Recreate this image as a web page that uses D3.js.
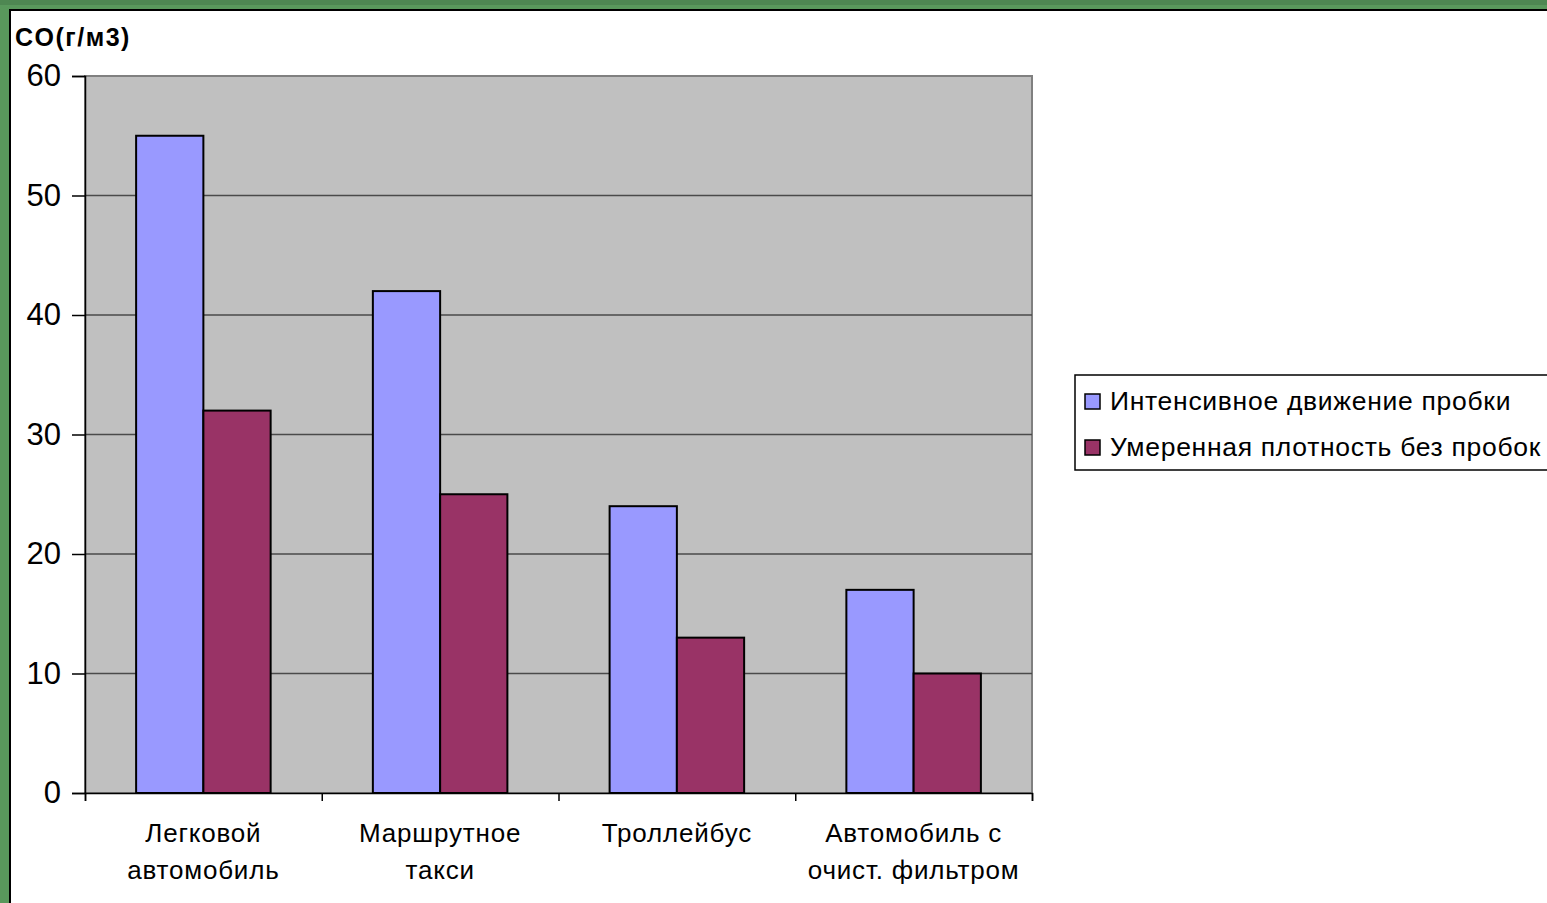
<!DOCTYPE html>
<html>
<head>
<meta charset="utf-8">
<script src="https://cdn.jsdelivr.net/npm/d3@7"></script>
<style>
  body { margin: 0; background: #59985c; }
  svg { display: block; }
</style>
</head>
<body>
<svg id="chart"></svg>
<script>
// data
var categories = [["Легковой", "автомобиль"], ["Маршрутное", "такси"], ["Троллейбус"], ["Автомобиль с", "очист. фильтром"]];
var seriesNames = ["Интенсивное движение пробки", "Умеренная плотность без пробок"];
var heavyTraffic = [55, 42, 24, 17];
var moderateTraffic = [32, 25, 13, 10];
var yTicks = [0, 10, 20, 30, 40, 50, 60];
var colors = ["#9999ff", "#993366"];

var width = 1547, height = 903;
var font = "Liberation Sans, Arial, sans-serif";
var svg = d3.select("#chart").attr("width", width).attr("height", height);

// green frame + white panel
svg.append("rect").attr("width", width).attr("height", height).attr("fill", "#59985c");
svg.append("rect").attr("x", 0).attr("y", 0).attr("width", width).attr("height", 5).attr("fill", "#4e8752");
svg.append("rect").attr("x", 10).attr("y", 10).attr("width", width).attr("height", height)
    .attr("fill", "#fff").attr("stroke", "#000").attr("stroke-width", 2);

var pLeft = 85, pRight = 1032, pTop = 76, pBottom = 793;

var x0 = d3.scaleBand().domain(d3.range(categories.length)).range([pLeft, pRight]).paddingInner(0).paddingOuter(0);
var x1 = d3.scaleBand().domain([0, 1]).range([0, x0.bandwidth()]).paddingOuter(0.76).paddingInner(0);
var y = d3.scaleLinear().domain([0, 60]).range([pBottom, pTop]);

// plot background
svg.append("rect").attr("x", pLeft).attr("y", pTop).attr("width", pRight - pLeft).attr("height", pBottom - pTop)
    .attr("fill", "#c0c0c0").attr("stroke", "#808080").attr("stroke-width", 2);

// gridlines
svg.append("g").selectAll("line").data(yTicks.filter(function(d){ return d > 0 && d < 60; }))
  .enter().append("line")
    .attr("x1", pLeft).attr("x2", pRight)
    .attr("y1", function(d){ return y(d); }).attr("y2", function(d){ return y(d); })
    .attr("stroke", "#4a4a4a").attr("stroke-width", 1.5);

// bars
var groups = svg.append("g").selectAll("g").data(categories).enter().append("g")
    .attr("transform", function(d, i){ return "translate(" + x0(i) + ",0)"; });
groups.selectAll("rect").data(function(d, i){ return [heavyTraffic[i], moderateTraffic[i]]; })
  .enter().append("rect")
    .attr("x", function(d, j){ return x1(j); })
    .attr("y", function(d){ return y(d); })
    .attr("width", x1.bandwidth())
    .attr("height", function(d){ return pBottom - y(d); })
    .attr("fill", function(d, j){ return colors[j]; })
    .attr("stroke", "#000").attr("stroke-width", 2);

// y axis
var yAxis = d3.axisLeft(y).tickValues(yTicks).tickSize(13).tickPadding(11);
var gy = svg.append("g").attr("transform", "translate(" + pLeft + ",0)").call(yAxis);
gy.select(".domain").attr("stroke", "#000").attr("stroke-width", 1.5);
gy.selectAll(".tick line").attr("stroke", "#000").attr("stroke-width", 1.5);
gy.selectAll("text").attr("font-family", font).attr("font-size", 31).attr("fill", "#000");

// x axis
var xLin = d3.scaleLinear().domain([0, categories.length]).range([pLeft, pRight]);
var xAxis = d3.axisBottom(xLin).tickValues(d3.range(categories.length + 1)).tickSize(8).tickFormat("");
var gx = svg.append("g").attr("transform", "translate(0," + pBottom + ")").call(xAxis);
gx.select(".domain").attr("stroke", "#000").attr("stroke-width", 1.5);
gx.selectAll(".tick line").attr("stroke", "#000").attr("stroke-width", 1.5);

svg.append("g").selectAll("text").data(categories).enter().append("text")
    .attr("x", function(d, i){ return x0(i) + x0.bandwidth() / 2; })
    .attr("y", 842)
    .attr("text-anchor", "middle")
    .attr("font-family", font).attr("font-size", 26).attr("letter-spacing", 0.8)
    .each(function(d){
        var t = d3.select(this);
        d.forEach(function(line, k){
            t.append("tspan").attr("x", t.attr("x")).attr("dy", k === 0 ? 0 : 37).text(line);
        });
    });

// axis title
svg.append("text").attr("x", 15).attr("y", 46).text("CO(г/м3)")
    .attr("font-family", font).attr("font-size", 25).attr("font-weight", "bold").attr("letter-spacing", 1.5);

// legend
var legend = svg.append("g");
legend.append("rect").attr("x", 1075).attr("y", 375).attr("width", 490).attr("height", 95)
    .attr("fill", "#fff").attr("stroke", "#000").attr("stroke-width", 1.5);
var items = legend.selectAll("g").data(seriesNames).enter().append("g")
    .attr("transform", function(d, i){ return "translate(1085," + (394 + i * 46) + ")"; });
items.append("rect").attr("width", 15).attr("height", 15)
    .attr("fill", function(d, i){ return colors[i]; }).attr("stroke", "#000").attr("stroke-width", 1.5);
items.append("text").attr("x", 25).attr("y", 16).text(function(d){ return d; })
    .attr("font-family", font).attr("font-size", 26.5).attr("letter-spacing", 0.7);
</script>
</body>
</html>
